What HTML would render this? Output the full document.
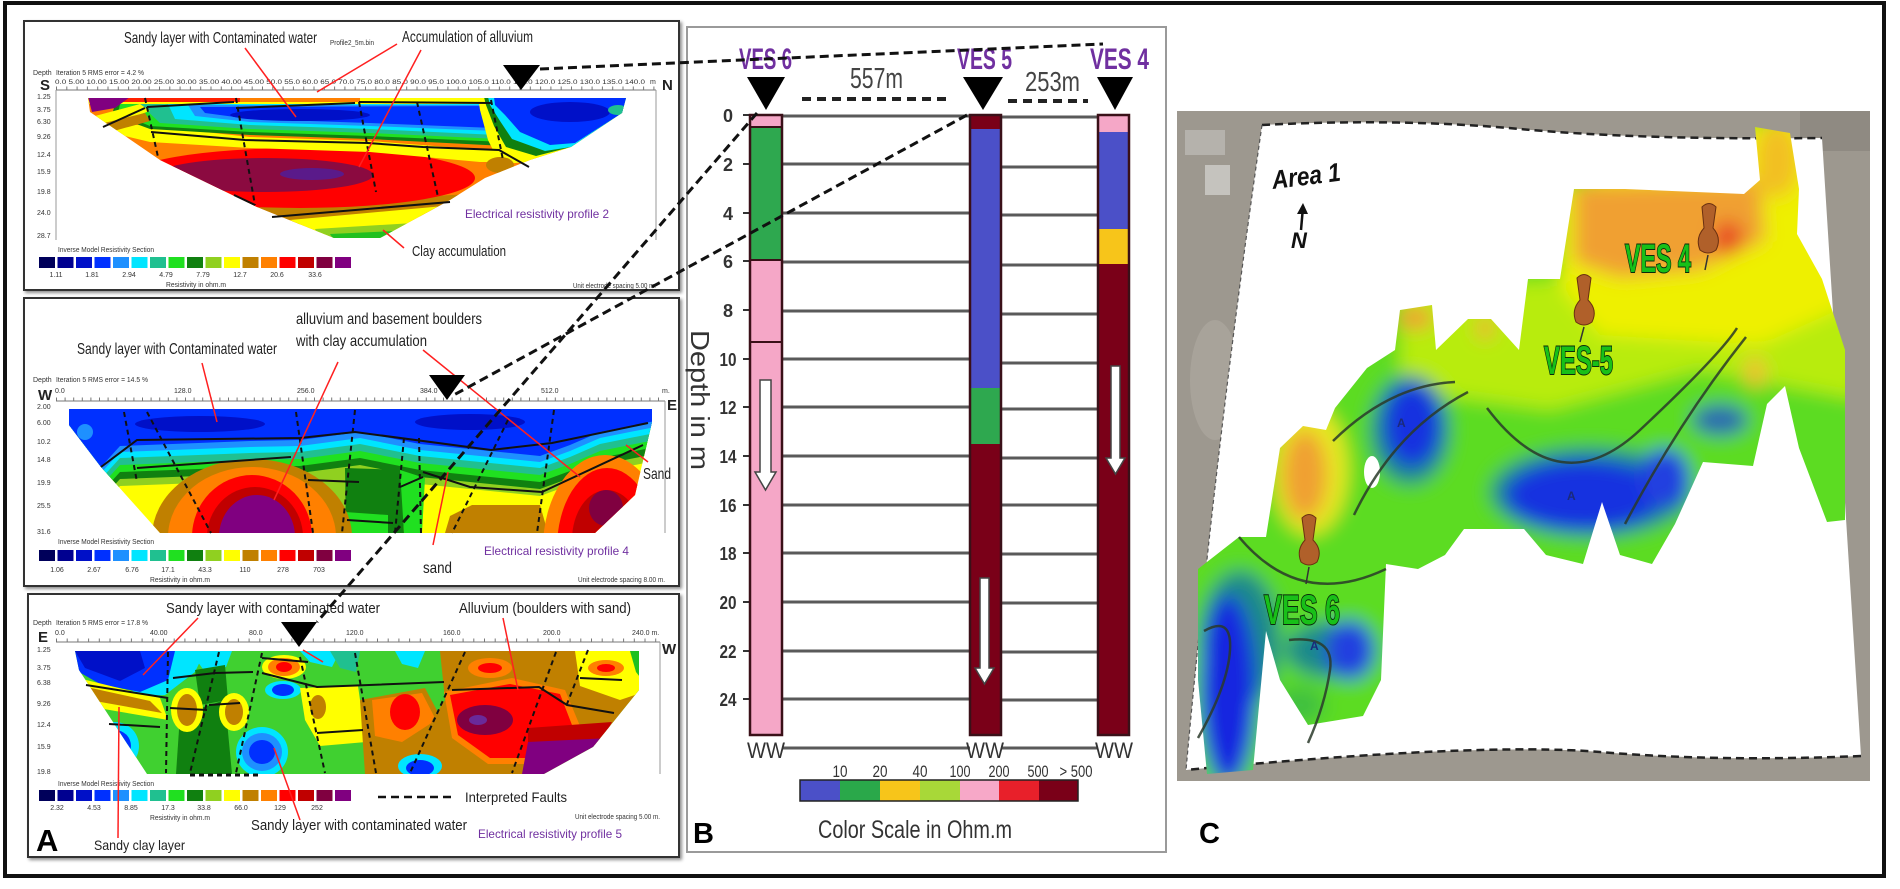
<!DOCTYPE html>
<html><head><meta charset="utf-8">
<style>
html,body{margin:0;padding:0;background:#fff;}
svg{display:block;}
text{font-family:"Liberation Sans",sans-serif;}
</style></head>
<body>
<svg width="1900" height="889" viewBox="0 0 1900 889" xmlns="http://www.w3.org/2000/svg">
<defs>
<clipPath id="c1"><polygon points="88,98 626,98 622,113 571,147 530,160 485,178 450,200 380,238 334,238 257,207 160,160 90,112"/></clipPath>
<clipPath id="c2"><polygon points="69,409 652,409 652,422 635,495 595,533 160,533 101,467 69,425"/></clipPath>
<clipPath id="c3"><polygon points="75,651 639,651 639,690 593,747 544,774 147,774 79,670"/></clipPath>
<clipPath id="cm"><polygon points="1755,127 1790,133 1799,189 1797,234 1822,279 1845,350 1845,520 1827,522 1799,448 1785,386 1767,404 1753,466 1703,462 1675,524 1652,564 1620,555 1602,502 1583,564 1546,555 1524,529 1464,529 1445,555 1418,569 1386,564 1381,680 1363,716 1308,725 1280,680 1266,631 1253,770 1207,774 1198,680 1198,569 1239,537 1266,537 1280,448 1303,426 1326,430 1335,408 1367,368 1395,350 1400,310 1432,305 1436,350 1468,319 1491,319 1519,350 1528,279 1560,279 1574,189 1625,189 1744,194 1760,180"/></clipPath>
<clipPath id="cimg"><rect x="1177" y="111" width="693" height="670"/></clipPath>
<filter id="bl" x="-10%" y="-10%" width="120%" height="120%"><feGaussianBlur stdDeviation="9"/></filter>
<filter id="sh" x="-5%" y="-5%" width="110%" height="110%"><feDropShadow dx="2" dy="2" stdDeviation="1.5" flood-color="#000" flood-opacity="0.45"/></filter>
</defs>

<rect width="1900" height="889" fill="#fff"/>
<rect x="5" y="3" width="1879" height="873" fill="none" stroke="#111" stroke-width="4"/>

<!-- ===== PANEL A boxes ===== -->
<rect x="24" y="21" width="655" height="269" fill="#fff" stroke="#333" stroke-width="2" filter="url(#sh)"/>
<rect x="24" y="298" width="655" height="288" fill="#fff" stroke="#333" stroke-width="2" filter="url(#sh)"/>
<rect x="28" y="594" width="651" height="263" fill="#fff" stroke="#333" stroke-width="2" filter="url(#sh)"/>

<!-- ===== SECTION 1 ===== -->
<g clip-path="url(#c1)">
 <rect x="80" y="90" width="560" height="160" fill="#ff8000"/>
 <polygon points="250,206 470,194 460,214 280,226" fill="#c08000"/>
 <polygon points="290,220 455,205 425,232 320,236" fill="#ffff00"/>
 <polygon points="315,229 430,222 400,240 320,240" fill="#90d020"/>
 <polygon points="330,234 395,231 385,240 334,240" fill="#20c020"/>
 <ellipse cx="300" cy="178" rx="175" ry="30" fill="#ff0000"/>
 <ellipse cx="265" cy="175" rx="108" ry="17" fill="#8b0a40"/>
 <ellipse cx="312" cy="174" rx="32" ry="6" fill="#5a1a8a"/>
 <polygon points="100,122 150,126 250,137 370,141 500,151 520,162 480,162 370,152 250,148 150,142 100,130" fill="#ffff00"/>
 <polygon points="115,104 500,104 505,146 370,139 250,135 150,129 112,115" fill="#108010"/>
 <polygon points="120,104 500,104 504,142 370,136 250,132 150,126 118,113" fill="#20e020"/>
 <polygon points="140,104 497,104 500,139 370,133 250,129 160,123" fill="#20c090"/>
 <polygon points="168,104 496,104 497,135 370,129 250,125 175,119" fill="#00e5ff"/>
 <polygon points="188,105 495,105 496,131 370,126 250,122 195,116" fill="#1e90ff"/>
 <polygon points="200,107 493,106 494,128 370,123 250,119 205,113" fill="#0030ff"/>
 <ellipse cx="300" cy="115" rx="70" ry="6" fill="#0010c8"/>
 <rect x="88" y="97" width="410" height="7" fill="#ffff00"/>
 <rect x="100" y="97" width="140" height="5" fill="#ff2000"/>
 <rect x="240" y="97" width="120" height="5" fill="#ff8000"/>
 <polygon points="88,97 130,97 115,108 92,112" fill="#800080"/>
 <polygon points="95,116 140,104 150,111 105,126" fill="#ffff00"/>
 <polygon points="100,124 145,113 150,121 110,132" fill="#c08000"/>
 <polygon points="478,97 640,97 622,113 571,147 530,162 500,164 488,140 480,110" fill="#ffff00"/>
 <polygon points="484,97 640,97 622,113 571,147 536,156 506,147 494,126 486,105" fill="#108010"/>
 <polygon points="488,97 640,97 622,113 571,147 545,151 512,139 500,121 490,105" fill="#00e5ff"/>
 <polygon points="494,97 640,97 622,113 575,143 550,145 520,132 505,115 495,105" fill="#0030ff"/>
 <ellipse cx="570" cy="112" rx="40" ry="10" fill="#0010c8"/>
 <ellipse cx="618" cy="110" rx="10" ry="5" fill="#20c090"/>
 <ellipse cx="500" cy="165" rx="14" ry="8" fill="#c08000"/>
</g>
<g stroke="#111" stroke-width="2" fill="none">
 <polyline points="103,127 145,108"/><polyline points="147,107 234,102"/><polyline points="236,108 355,103"/><polyline points="359,102 491,103"/>
 <polyline points="151,132 245,140 368,143 423,147 499,150 529,167"/>
 <polyline points="272,217 450,202"/><polyline points="234,195 255,205"/>
</g>
<g stroke="#111" stroke-width="2" stroke-dasharray="5 4" fill="none">
 <line x1="145" y1="98" x2="158" y2="157"/><line x1="236" y1="98" x2="255" y2="205"/><line x1="359" y1="102" x2="376" y2="192"/><line x1="417" y1="102" x2="438" y2="197"/><line x1="491" y1="100" x2="503" y2="160"/>
</g>
<line x1="56" y1="90" x2="656" y2="90" stroke="#777" stroke-width="1"/>
<line x1="56" y1="88" x2="656" y2="88" stroke="#777" stroke-width="3" stroke-dasharray="1 9.3"/>
<line x1="56" y1="90" x2="56" y2="240" stroke="#999" stroke-width="1"/>
<line x1="656" y1="90" x2="656" y2="240" stroke="#999" stroke-width="1"/>
<g fill="#333" font-size="7">
 <text x="33" y="75">Depth</text><text x="56" y="75" textLength="88" lengthAdjust="spacingAndGlyphs">Iteration 5 RMS error = 4.2 %</text>
 <text x="55" y="84" font-size="6.5" textLength="590" lengthAdjust="spacingAndGlyphs">0.0 5.00 10.00 15.00 20.00 25.00 30.00 35.00 40.00 45.00 50.0 55.0 60.0 65.0 70.0 75.0 80.0 85.0 90.0 95.0 100.0 105.0 110.0 115.0 120.0 125.0 130.0 135.0 140.0</text>
 <text x="650" y="84">m</text>
 <text x="37" y="99">1.25</text><text x="37" y="112">3.75</text><text x="37" y="124">6.30</text><text x="37" y="139">9.26</text><text x="37" y="157">12.4</text><text x="37" y="174">15.9</text><text x="37" y="194">19.8</text><text x="37" y="215">24.0</text><text x="37" y="238">28.7</text>
 <text x="58" y="252" textLength="96" lengthAdjust="spacingAndGlyphs">Inverse Model Resistivity Section</text>
 <g text-anchor="middle"><text x="56" y="277">1.11</text><text x="92" y="277">1.81</text><text x="129" y="277">2.94</text><text x="166" y="277">4.79</text><text x="203" y="277">7.79</text><text x="240" y="277">12.7</text><text x="277" y="277">20.6</text><text x="315" y="277">33.6</text></g>
 <text x="166" y="287" textLength="60" lengthAdjust="spacingAndGlyphs">Resistivity in ohm.m</text>
 <text x="330" y="45" textLength="44" lengthAdjust="spacingAndGlyphs">Profile2_5m.bin</text>
 <text x="573" y="288" textLength="83" lengthAdjust="spacingAndGlyphs">Unit electrode spacing 5.00 m.</text>
</g>
<text x="40" y="90" font-size="15" font-weight="bold" fill="#222">S</text>
<text x="662" y="90" font-size="15" font-weight="bold" fill="#222">N</text>
<g id="leg1">
 <rect x="39" y="257" width="16" height="11" fill="#00005a"/><rect x="57.5" y="257" width="16" height="11" fill="#000090"/><rect x="76" y="257" width="16" height="11" fill="#0010c8"/><rect x="94.5" y="257" width="16" height="11" fill="#0030ff"/><rect x="113" y="257" width="16" height="11" fill="#1e90ff"/><rect x="131.5" y="257" width="16" height="11" fill="#00e5ff"/><rect x="150" y="257" width="16" height="11" fill="#20c090"/><rect x="168.5" y="257" width="16" height="11" fill="#20e020"/><rect x="187" y="257" width="16" height="11" fill="#108010"/><rect x="205.5" y="257" width="16" height="11" fill="#90d020"/><rect x="224" y="257" width="16" height="11" fill="#ffff00"/><rect x="242.5" y="257" width="16" height="11" fill="#c08000"/><rect x="261" y="257" width="16" height="11" fill="#ff8000"/><rect x="279.5" y="257" width="16" height="11" fill="#ff0000"/><rect x="298" y="257" width="16" height="11" fill="#c00000"/><rect x="316.5" y="257" width="16" height="11" fill="#800040"/><rect x="335" y="257" width="16" height="11" fill="#800080"/>
</g>
<g stroke="#ff2020" stroke-width="1.5">
 <line x1="245" y1="48" x2="296" y2="117"/><line x1="397" y1="44" x2="317" y2="92"/><line x1="421" y1="50" x2="359" y2="167"/><line x1="404" y1="248" x2="383" y2="230"/>
</g>
<g fill="#222" font-size="16">
 <text x="124" y="43" textLength="193" lengthAdjust="spacingAndGlyphs">Sandy layer with Contaminated water</text>
 <text x="402" y="42" textLength="131" lengthAdjust="spacingAndGlyphs">Accumulation of alluvium</text>
 <text x="412" y="256" textLength="94" lengthAdjust="spacingAndGlyphs" font-size="15">Clay accumulation</text>
</g>
<text x="465" y="218" font-size="12" fill="#7030a0" textLength="144" lengthAdjust="spacingAndGlyphs">Electrical resistivity profile 2</text>
<polygon points="503,65 540,65 521,90" fill="#000"/>

<!-- ===== SECTION 2 ===== -->
<g clip-path="url(#c2)">
 <rect x="60" y="400" width="600" height="140" fill="#ffff00"/>
 <polygon points="60,400 660,400 660,460 600,472 570,485 540,496 480,490 420,484 360,472 300,480 250,481 120,486 100,508 60,510" fill="#90d020"/>
 <polygon points="60,400 660,400 660,453 600,465 570,478 540,489 480,483 420,477 360,465 300,473 250,474 120,479 100,501 60,503" fill="#108010"/>
 <polygon points="60,400 660,400 660,446 600,458 570,471 540,482 480,476 420,470 360,458 300,466 250,467 120,472 100,494 60,496" fill="#20e020"/>
 <polygon points="60,400 660,400 660,439 600,451 570,464 540,475 480,469 420,463 360,451 300,459 250,460 120,465 100,487 60,489" fill="#20c090"/>
 <polygon points="60,400 660,400 660,432 600,444 570,457 540,468 480,462 420,456 360,444 300,452 250,453 120,458 100,480 60,482" fill="#00e5ff"/>
 <polygon points="60,400 660,400 660,426 600,438 570,451 540,462 480,456 420,450 360,438 300,446 250,447 120,452 100,474 60,476" fill="#1e90ff"/>
 <polygon points="60,400 660,400 660,420 600,432 570,445 540,456 480,450 420,444 360,432 300,440 250,441 120,446 100,468 60,470" fill="#0030ff"/>
 <ellipse cx="200" cy="424" rx="65" ry="8" fill="#0010c8"/>
 <ellipse cx="470" cy="422" rx="55" ry="8" fill="#0010c8"/>
 <ellipse cx="85" cy="432" rx="8" ry="8" fill="#1e90ff"/>
 <polygon points="312,475 345,468 348,533 318,533" fill="#90d020"/>
 <polygon points="345,468 402,470 404,533 346,533" fill="#108010"/>
 <polygon points="400,470 425,478 422,533 404,533" fill="#20e020"/>
 <polygon points="345,512 388,515 388,533 345,533" fill="#20e020"/>
 <ellipse cx="252" cy="537" rx="100" ry="78" fill="#c08000"/>
 <ellipse cx="252" cy="537" rx="84" ry="70" fill="#ff8000"/>
 <ellipse cx="252" cy="537" rx="60" ry="62" fill="#ff0000"/>
 <ellipse cx="255" cy="537" rx="48" ry="50" fill="#c00000"/>
 <ellipse cx="257" cy="537" rx="38" ry="42" fill="#800080"/>
 <polygon points="450,516 472,505 540,505 548,533 445,533" fill="#c08000"/>
 <ellipse cx="605" cy="548" rx="62" ry="93" fill="#ff8000"/>
 <ellipse cx="607" cy="548" rx="50" ry="80" fill="#ff0000"/>
 <ellipse cx="607" cy="540" rx="35" ry="50" fill="#c00000"/>
 <ellipse cx="606" cy="508" rx="17" ry="18" fill="#800040"/>
</g>
<g stroke="#111" stroke-width="2" fill="none">
 <polyline points="101,467 137,440 300,438 355,432 491,450 552,443 648,423"/>
 <polyline points="137,468 291,457"/><polyline points="423,472 470,487 542,492 643,445"/>
 <polyline points="308,480 359,482"/><polyline points="400,487 423,477"/><polyline points="347,520 393,523"/>
</g>
<g stroke="#111" stroke-width="2" stroke-dasharray="5 4" fill="none">
 <line x1="124" y1="412" x2="137" y2="482"/><line x1="147" y1="412" x2="211" y2="533"/><line x1="296" y1="412" x2="313" y2="533"/><line x1="355" y1="410" x2="342" y2="533"/><line x1="404" y1="438" x2="395" y2="533"/><line x1="419" y1="438" x2="421" y2="533"/><line x1="508" y1="420" x2="452" y2="533"/><line x1="554" y1="410" x2="537" y2="533"/>
</g>
<line x1="56" y1="401" x2="665" y2="401" stroke="#777" stroke-width="1"/>
<line x1="56" y1="399" x2="665" y2="399" stroke="#777" stroke-width="3" stroke-dasharray="1 7.6"/>
<line x1="665" y1="401" x2="665" y2="533" stroke="#999" stroke-width="1"/>
<g fill="#333" font-size="7">
 <text x="33" y="382">Depth</text><text x="56" y="382" textLength="92" lengthAdjust="spacingAndGlyphs">Iteration 5 RMS error = 14.5 %</text>
 <text x="55" y="393">0.0</text><text x="174" y="393">128.0</text><text x="297" y="393">256.0</text><text x="420" y="393">384.0</text><text x="541" y="393">512.0</text><text x="662" y="393">m.</text>
 <text x="37" y="409">2.00</text><text x="37" y="425">6.00</text><text x="37" y="444">10.2</text><text x="37" y="462">14.8</text><text x="37" y="485">19.9</text><text x="37" y="508">25.5</text><text x="37" y="534">31.6</text>
 <text x="58" y="544" textLength="96" lengthAdjust="spacingAndGlyphs">Inverse Model Resistivity Section</text>
 <g text-anchor="middle"><text x="57" y="572">1.06</text><text x="94" y="572">2.67</text><text x="132" y="572">6.76</text><text x="168" y="572">17.1</text><text x="205" y="572">43.3</text><text x="245" y="572">110</text><text x="283" y="572">278</text><text x="319" y="572">703</text></g>
 <text x="150" y="582" textLength="60" lengthAdjust="spacingAndGlyphs">Resistivity in ohm.m</text>
 <text x="578" y="582" textLength="87" lengthAdjust="spacingAndGlyphs">Unit electrode spacing 8.00 m.</text>
</g>
<text x="38" y="400" font-size="15" font-weight="bold" fill="#222">W</text>
<text x="667" y="410" font-size="15" font-weight="bold" fill="#222">E</text>
<use href="#leg1" transform="translate(0,293)"/>
<g stroke="#ff2020" stroke-width="1.5">
 <line x1="202" y1="363" x2="217" y2="422"/><line x1="338" y1="362" x2="274" y2="500"/><line x1="423" y1="350" x2="580" y2="477"/><line x1="626" y1="445" x2="648" y2="462"/><line x1="433" y1="545" x2="448" y2="472"/>
</g>
<g fill="#222" font-size="16">
 <text x="296" y="324" textLength="186" lengthAdjust="spacingAndGlyphs">alluvium and basement boulders</text>
 <text x="296" y="346" textLength="131" lengthAdjust="spacingAndGlyphs">with clay accumulation</text>
 <text x="77" y="354" textLength="200" lengthAdjust="spacingAndGlyphs">Sandy layer with Contaminated water</text>
 <text x="423" y="573" textLength="29" lengthAdjust="spacingAndGlyphs">sand</text>
 <text x="643" y="479" textLength="28" lengthAdjust="spacingAndGlyphs">Sand</text>
</g>
<text x="484" y="555" font-size="12" fill="#7030a0" textLength="145" lengthAdjust="spacingAndGlyphs">Electrical resistivity profile 4</text>
<polygon points="429,375 465,375 447,400" fill="#000"/>

<!-- ===== SECTION 3 ===== -->
<g clip-path="url(#c3)">
 <rect x="70" y="645" width="580" height="135" fill="#40d030"/>
 <polygon points="150,651 205,651 195,672 165,695 130,697" fill="#00e5ff"/>
 <polygon points="75,651 175,651 168,680 140,692 100,684 79,672" fill="#0030ff"/>
 <polygon points="75,651 140,651 145,668 120,681 85,668" fill="#0010c8"/>
 <polygon points="190,651 232,651 226,667 205,672" fill="#00e5ff"/>
 <polygon points="300,651 340,651 332,667 310,662" fill="#00e5ff"/>
 <polygon points="395,651 425,651 418,668 402,664" fill="#00e5ff"/>
 <polygon points="330,651 360,651 356,672 340,668" fill="#20c090"/>
 <polygon points="78,678 160,698 168,720 86,706" fill="#ffff00"/>
 <polygon points="82,686 150,701 162,713 95,701" fill="#c08000"/>
 <ellipse cx="115" cy="746" rx="24" ry="24" fill="#00e5ff"/>
 <ellipse cx="115" cy="746" rx="16" ry="16" fill="#0030ff"/>
 <polygon points="180,715 225,700 232,774 176,774" fill="#108010"/>
 <polygon points="195,670 225,665 228,700 200,705" fill="#108010"/>
 <ellipse cx="187" cy="710" rx="16" ry="22" fill="#ffff00"/>
 <ellipse cx="187" cy="710" rx="10" ry="16" fill="#c08000"/>
 <ellipse cx="234" cy="712" rx="15" ry="19" fill="#ffff00"/>
 <ellipse cx="234" cy="712" rx="9" ry="13" fill="#c08000"/>
 <ellipse cx="284" cy="667" rx="22" ry="12" fill="#ffff00"/>
 <ellipse cx="284" cy="667" rx="16" ry="9" fill="#ff8000"/>
 <ellipse cx="284" cy="667" rx="8" ry="5" fill="#ff0000"/>
 <ellipse cx="283" cy="690" rx="18" ry="9" fill="#00e5ff"/>
 <ellipse cx="283" cy="690" rx="11" ry="6" fill="#0030ff"/>
 <ellipse cx="262" cy="752" rx="26" ry="25" fill="#00e5ff"/>
 <ellipse cx="262" cy="752" rx="20" ry="19" fill="#1e90ff"/>
 <ellipse cx="262" cy="752" rx="13" ry="12" fill="#0030ff"/>
 <polygon points="300,688 358,686 366,742 320,746 305,720" fill="#ffff00"/>
 <ellipse cx="318" cy="707" rx="8" ry="12" fill="#c08000"/>
 <polygon points="360,700 425,688 442,720 425,774 365,774" fill="#c08000"/>
 <polygon points="372,700 422,693 436,720 402,742 375,736" fill="#ff8000"/>
 <ellipse cx="405" cy="712" rx="15" ry="18" fill="#ff0000"/>
 <polygon points="440,651 650,651 650,690 593,747 544,774 420,774 432,720 445,700" fill="#c08000"/>
 <ellipse cx="420" cy="766" rx="22" ry="12" fill="#00e5ff"/>
 <ellipse cx="420" cy="768" rx="14" ry="8" fill="#0030ff"/>
 <polygon points="444,692 512,678 565,690 580,726 555,764 488,764 452,738" fill="#ff8000"/>
 <polygon points="450,695 510,684 560,694 572,725 550,758 490,758 458,735" fill="#ff0000"/>
 <ellipse cx="485" cy="720" rx="28" ry="15" fill="#800040"/>
 <ellipse cx="478" cy="720" rx="9" ry="5" fill="#6a2a9a"/>
 <polygon points="528,728 612,722 600,744 528,748" fill="#c00000"/>
 <polygon points="528,742 610,738 593,747 544,774 522,774" fill="#800080"/>
 <ellipse cx="490" cy="668" rx="22" ry="10" fill="#ff8000"/>
 <ellipse cx="490" cy="668" rx="12" ry="5" fill="#ff0000"/>
 <polygon points="575,651 650,651 650,690 620,700 580,686" fill="#ffff00"/>
 <ellipse cx="606" cy="668" rx="18" ry="8" fill="#ff8000"/>
 <ellipse cx="606" cy="668" rx="9" ry="4" fill="#ff0000"/>
 <polygon points="630,651 650,651 650,690 636,672" fill="#20c020"/>
</g>
<g stroke="#111" stroke-width="2" fill="none">
 <polyline points="86,685 168,698"/><polyline points="109,724 160,727"/><polyline points="173,678 215,673 253,672"/><polyline points="170,708 207,710"/><polyline points="209,705 240,703"/><polyline points="262,658 308,662"/><polyline points="262,673 317,687 444,682"/><polyline points="317,733 363,730"/><polyline points="452,690 539,687 567,705 614,713"/><polyline points="580,678 622,680"/>
</g>
<g stroke="#111" stroke-width="2" stroke-dasharray="5 4" fill="none">
 <line x1="168" y1="652" x2="166" y2="773"/><line x1="219" y1="652" x2="190" y2="773"/><line x1="262" y1="653" x2="236" y2="773"/><line x1="300" y1="657" x2="325" y2="773"/><line x1="355" y1="653" x2="376" y2="773"/><line x1="465" y1="652" x2="410" y2="773"/><line x1="556" y1="652" x2="512" y2="773"/><line x1="588" y1="650" x2="567" y2="704"/>
 <line x1="190" y1="775" x2="262" y2="775" stroke-width="3"/>
</g>
<line x1="56" y1="642" x2="660" y2="642" stroke="#777" stroke-width="1"/>
<line x1="56" y1="640" x2="660" y2="640" stroke="#777" stroke-width="3" stroke-dasharray="1 9.7"/>
<line x1="660" y1="642" x2="660" y2="774" stroke="#999" stroke-width="1"/>
<g fill="#333" font-size="7">
 <text x="33" y="625">Depth</text><text x="56" y="625" textLength="92" lengthAdjust="spacingAndGlyphs">Iteration 5 RMS error = 17.8 %</text>
 <text x="55" y="635">0.0</text><text x="150" y="635">40.00</text><text x="249" y="635">80.0</text><text x="346" y="635">120.0</text><text x="443" y="635">160.0</text><text x="543" y="635">200.0</text><text x="632" y="635">240.0 m.</text>
 <text x="37" y="652">1.25</text><text x="37" y="670">3.75</text><text x="37" y="685">6.38</text><text x="37" y="706">9.26</text><text x="37" y="727">12.4</text><text x="37" y="749">15.9</text><text x="37" y="774">19.8</text>
 <text x="58" y="786" textLength="96" lengthAdjust="spacingAndGlyphs">Inverse Model Resistivity Section</text>
 <g text-anchor="middle"><text x="57" y="810">2.32</text><text x="94" y="810">4.53</text><text x="131" y="810">8.85</text><text x="168" y="810">17.3</text><text x="204" y="810">33.8</text><text x="241" y="810">66.0</text><text x="280" y="810">129</text><text x="317" y="810">252</text></g>
 <text x="150" y="820" textLength="60" lengthAdjust="spacingAndGlyphs">Resistivity in ohm.m</text>
 <text x="575" y="819" textLength="85" lengthAdjust="spacingAndGlyphs">Unit electrode spacing 5.00 m.</text>
</g>
<text x="38" y="642" font-size="15" font-weight="bold" fill="#222">E</text>
<text x="662" y="654" font-size="15" font-weight="bold" fill="#222">W</text>
<use href="#leg1" transform="translate(0,533)"/>
<line x1="378" y1="797" x2="453" y2="797" stroke="#111" stroke-width="2.5" stroke-dasharray="8 5"/>
<g stroke="#ff2020" stroke-width="1.5">
 <line x1="198" y1="618" x2="143" y2="675"/><line x1="303" y1="650" x2="323" y2="662"/><line x1="503" y1="618" x2="518" y2="690"/><line x1="119" y1="707" x2="118" y2="838"/><line x1="300" y1="820" x2="274" y2="748"/>
</g>
<g fill="#222">
 <text x="166" y="613" font-size="15" textLength="214" lengthAdjust="spacingAndGlyphs">Sandy layer with contaminated water</text>
 <text x="459" y="613" font-size="15" textLength="172" lengthAdjust="spacingAndGlyphs">Alluvium (boulders with sand)</text>
 <text x="465" y="802" font-size="14" textLength="102" lengthAdjust="spacingAndGlyphs">Interpreted Faults</text>
 <text x="251" y="830" font-size="15" textLength="216" lengthAdjust="spacingAndGlyphs">Sandy layer with contaminated water</text>
 <text x="94" y="850" font-size="14" textLength="91" lengthAdjust="spacingAndGlyphs">Sandy clay layer</text>
 <text x="36" y="851" font-size="31" font-weight="bold" fill="#000">A</text>
</g>
<text x="478" y="838" font-size="12" fill="#7030a0" textLength="144" lengthAdjust="spacingAndGlyphs">Electrical resistivity profile 5</text>
<polygon points="281,622 317,622 299,647" fill="#000"/>

<!-- ===== PANEL B ===== -->
<rect x="687" y="27" width="479" height="825" fill="#fff" stroke="#9a9a9a" stroke-width="2"/>
<g fill="#7030a0" font-size="30" font-weight="bold">
 <text x="739" y="69" textLength="53" lengthAdjust="spacingAndGlyphs">VES 6</text>
 <text x="957" y="69" textLength="55" lengthAdjust="spacingAndGlyphs">VES 5</text>
 <text x="1090" y="69" textLength="59" lengthAdjust="spacingAndGlyphs">VES 4</text>
</g>
<polygon points="747,77 785,77 766,110" fill="#000"/>
<polygon points="963,77 1003,77 983,110" fill="#000"/>
<polygon points="1097,77 1133,77 1115,110" fill="#000"/>
<text x="850" y="88" font-size="29" fill="#444" textLength="53" lengthAdjust="spacingAndGlyphs">557m</text>
<text x="1025" y="91" font-size="28" fill="#444" textLength="55" lengthAdjust="spacingAndGlyphs">253m</text>
<line x1="802" y1="99" x2="947" y2="99" stroke="#222" stroke-width="4" stroke-dasharray="9 6"/>
<line x1="1008" y1="101" x2="1088" y2="101" stroke="#222" stroke-width="4" stroke-dasharray="9 6"/>
<g stroke="#5a5a5a" stroke-width="3">
 <line x1="782" y1="116" x2="970" y2="116"/><line x1="1001" y1="117" x2="1098" y2="117"/>
 <line x1="782" y1="164" x2="970" y2="164"/><line x1="1001" y1="167" x2="1098" y2="167"/>
 <line x1="782" y1="213" x2="970" y2="213"/><line x1="1001" y1="215" x2="1098" y2="215"/>
 <line x1="782" y1="262" x2="970" y2="262"/><line x1="1001" y1="265" x2="1098" y2="265"/>
 <line x1="782" y1="311" x2="970" y2="311"/><line x1="1001" y1="314" x2="1098" y2="314"/>
 <line x1="782" y1="359" x2="970" y2="359"/><line x1="1001" y1="363" x2="1098" y2="363"/>
 <line x1="782" y1="407" x2="970" y2="407"/><line x1="1001" y1="409" x2="1098" y2="409"/>
 <line x1="782" y1="456" x2="970" y2="456"/><line x1="1001" y1="458" x2="1098" y2="458"/>
 <line x1="782" y1="505" x2="970" y2="505"/><line x1="1001" y1="505" x2="1098" y2="505"/>
 <line x1="782" y1="553" x2="970" y2="553"/><line x1="1001" y1="554" x2="1098" y2="554"/>
 <line x1="782" y1="602" x2="970" y2="602"/><line x1="1001" y1="603" x2="1098" y2="603"/>
 <line x1="782" y1="651" x2="970" y2="651"/><line x1="1001" y1="652" x2="1098" y2="652"/>
 <line x1="782" y1="699" x2="970" y2="699"/><line x1="1001" y1="700" x2="1098" y2="700"/>
 <line x1="782" y1="748" x2="970" y2="748"/><line x1="1001" y1="748" x2="1098" y2="748"/>
</g>
<g stroke="#333" stroke-width="2">
 <line x1="743" y1="115" x2="750" y2="115"/><line x1="743" y1="164" x2="750" y2="164"/><line x1="743" y1="213" x2="750" y2="213"/><line x1="743" y1="261" x2="750" y2="261"/><line x1="743" y1="310" x2="750" y2="310"/><line x1="743" y1="359" x2="750" y2="359"/><line x1="743" y1="407" x2="750" y2="407"/><line x1="743" y1="456" x2="750" y2="456"/><line x1="743" y1="505" x2="750" y2="505"/><line x1="743" y1="553" x2="750" y2="553"/><line x1="743" y1="602" x2="750" y2="602"/><line x1="743" y1="651" x2="750" y2="651"/><line x1="743" y1="699" x2="750" y2="699"/>
</g>
<g fill="#333" font-size="18" font-weight="bold" text-anchor="middle">
 <text x="728" y="122">0</text><text x="728" y="171">2</text><text x="728" y="220">4</text><text x="728" y="268">6</text><text x="728" y="317">8</text><text x="728" y="366" textLength="17" lengthAdjust="spacingAndGlyphs">10</text><text x="728" y="414" textLength="17" lengthAdjust="spacingAndGlyphs">12</text><text x="728" y="463" textLength="17" lengthAdjust="spacingAndGlyphs">14</text><text x="728" y="512" textLength="17" lengthAdjust="spacingAndGlyphs">16</text><text x="728" y="560" textLength="17" lengthAdjust="spacingAndGlyphs">18</text><text x="728" y="609" textLength="17" lengthAdjust="spacingAndGlyphs">20</text><text x="728" y="658" textLength="17" lengthAdjust="spacingAndGlyphs">22</text><text x="728" y="706" textLength="17" lengthAdjust="spacingAndGlyphs">24</text>
</g>
<text transform="translate(691,330) rotate(90)" font-size="26" fill="#333" textLength="140" lengthAdjust="spacingAndGlyphs">Depth in m</text>
<rect x="750" y="115" width="32" height="11" fill="#f5a7c7"/>
<rect x="750" y="127" width="32" height="133" fill="#2ea84f"/>
<rect x="750" y="260" width="32" height="475" fill="#f5a7c7"/>
<line x1="750" y1="127" x2="782" y2="127" stroke="#3a1018" stroke-width="2"/>
<line x1="750" y1="260" x2="782" y2="260" stroke="#3a1018" stroke-width="2"/>
<line x1="750" y1="342" x2="782" y2="342" stroke="#3a1018" stroke-width="2"/>
<rect x="750" y="115" width="32" height="620" fill="none" stroke="#3a1018" stroke-width="2.5"/>
<polygon points="760,380 771,380 771,472 776,472 765.5,490 755,472 760,472" fill="#fff" stroke="#444" stroke-width="1.5"/>
<rect x="970" y="115" width="31" height="14" fill="#7a0018"/>
<rect x="970" y="129" width="31" height="259" fill="#4b50c8"/>
<rect x="970" y="388" width="31" height="56" fill="#2ea84f"/>
<rect x="970" y="444" width="31" height="291" fill="#7a0018"/>
<rect x="970" y="115" width="31" height="620" fill="none" stroke="#3a1018" stroke-width="2.5"/>
<polygon points="980,578 989,578 989,668 994,668 984.5,684 975,668 980,668" fill="#fff" stroke="#444" stroke-width="1.5"/>
<rect x="1098" y="115" width="31" height="17" fill="#f5a7c7"/>
<rect x="1098" y="132" width="31" height="97" fill="#4b50c8"/>
<rect x="1098" y="229" width="31" height="35" fill="#f7c51a"/>
<rect x="1098" y="264" width="31" height="471" fill="#7a0018"/>
<rect x="1098" y="115" width="31" height="620" fill="none" stroke="#3a1018" stroke-width="2.5"/>
<polygon points="1111,366 1120,366 1120,458 1125,458 1115.5,474 1106,458 1111,458" fill="#fff" stroke="#444" stroke-width="1.5"/>
<g fill="#333" font-size="22">
 <text x="747" y="758" textLength="38" lengthAdjust="spacingAndGlyphs">WW</text>
 <text x="966" y="758" textLength="38" lengthAdjust="spacingAndGlyphs">WW</text>
 <text x="1095" y="758" textLength="38" lengthAdjust="spacingAndGlyphs">WW</text>
</g>
<rect x="800" y="780" width="40" height="21" fill="#4b50c8"/><rect x="840" y="780" width="40" height="21" fill="#2aa84a"/><rect x="880" y="780" width="40" height="21" fill="#f7c51a"/><rect x="920" y="780" width="40" height="21" fill="#a8d838"/><rect x="960" y="780" width="39" height="21" fill="#f7a8c8"/><rect x="999" y="780" width="40" height="21" fill="#e8202a"/><rect x="1039" y="780" width="39" height="21" fill="#7a0018"/>
<rect x="800" y="780" width="278" height="21" fill="none" stroke="#222" stroke-width="1.5"/>
<g fill="#333" font-size="17" text-anchor="middle">
 <text x="840" y="777" textLength="15" lengthAdjust="spacingAndGlyphs">10</text><text x="880" y="777" textLength="15" lengthAdjust="spacingAndGlyphs">20</text><text x="920" y="777" textLength="15" lengthAdjust="spacingAndGlyphs">40</text><text x="960" y="777" textLength="21" lengthAdjust="spacingAndGlyphs">100</text><text x="999" y="777" textLength="21" lengthAdjust="spacingAndGlyphs">200</text><text x="1038" y="777" textLength="21" lengthAdjust="spacingAndGlyphs">500</text><text x="1076" y="777" textLength="33" lengthAdjust="spacingAndGlyphs">&gt; 500</text>
</g>
<text x="818" y="838" font-size="25" fill="#333" textLength="194" lengthAdjust="spacingAndGlyphs">Color Scale in Ohm.m</text>
<text x="693" y="843" font-size="29" font-weight="bold" fill="#000">B</text>

<!-- ===== PANEL C ===== -->
<g clip-path="url(#cimg)">
 <rect x="1177" y="111" width="693" height="670" fill="#9d988f"/>
 <rect x="1185" y="130" width="40" height="25" fill="#b5b2ac"/>
 <rect x="1205" y="165" width="25" height="30" fill="#c5c3be"/>
 <ellipse cx="1215" cy="380" rx="25" ry="60" fill="#a8a39a"/>
 <rect x="1800" y="111" width="70" height="40" fill="#8f8a82"/>
</g>
<path d="M1262,125 Q1400,118 1520,129 T1822,138 L1861,756 Q1720,762 1600,752 T1186,770 Q1215,450 1262,125 Z" fill="#fff"/>
<path d="M1262,125 Q1400,118 1520,129 T1822,138" fill="none" stroke="#222" stroke-width="2.5" stroke-dasharray="8 5"/>
<path d="M1861,756 Q1720,762 1600,752 T1186,770" fill="none" stroke="#222" stroke-width="2.5" stroke-dasharray="8 5"/>
<path d="M1262,125 Q1215,450 1186,770" fill="none" stroke="#555" stroke-width="1.2" stroke-dasharray="4 3"/>
<g clip-path="url(#cm)">
 <g filter="url(#bl)">
  <rect x="1180" y="110" width="700" height="680" fill="#5cdc22"/>
  <polygon points="1400,290 1860,260 1860,400 1700,370 1550,410 1400,390" fill="#b8ec10"/>
  <polygon points="1560,190 1800,110 1860,300 1760,345 1600,335 1560,285" fill="#eef000"/>
  <polygon points="1574,185 1760,180 1765,240 1700,270 1620,278 1574,262" fill="#f0a030"/>
  <ellipse cx="1728" cy="238" rx="15" ry="17" fill="#e84a28"/>
  <ellipse cx="1777" cy="160" rx="22" ry="38" fill="#f2c020"/>
  <ellipse cx="1415" cy="318" rx="18" ry="12" fill="#f0a030"/>
  <ellipse cx="1485" cy="328" rx="9" ry="12" fill="#f0b030"/>
  <ellipse cx="1755" cy="372" rx="11" ry="16" fill="#f0c030"/>
  <ellipse cx="1410" cy="430" rx="40" ry="55" fill="#1a8a8a"/>
  <ellipse cx="1412" cy="425" rx="28" ry="42" fill="#1830e0"/>
  <ellipse cx="1590" cy="492" rx="100" ry="45" fill="#1a8a8a"/>
  <ellipse cx="1585" cy="495" rx="80" ry="35" fill="#1830e0"/>
  <ellipse cx="1665" cy="478" rx="25" ry="30" fill="#2040e0"/>
  <ellipse cx="1720" cy="420" rx="28" ry="16" fill="#2a6ab0"/>
  <ellipse cx="1310" cy="470" rx="38" ry="65" fill="#e8e820"/>
  <ellipse cx="1305" cy="475" rx="22" ry="45" fill="#f0a030"/>
  <ellipse cx="1240" cy="640" rx="40" ry="70" fill="#1a8a8a"/>
  <ellipse cx="1228" cy="690" rx="28" ry="95" fill="#1828e0"/>
  <ellipse cx="1330" cy="650" rx="45" ry="28" fill="#1a8a8a"/>
  <ellipse cx="1350" cy="650" rx="25" ry="30" fill="#2040e0"/>
  <ellipse cx="1300" cy="705" rx="25" ry="18" fill="#40c040"/>
 </g>
</g>
<ellipse cx="1372" cy="472" rx="8" ry="16" fill="#fff"/>
<g stroke="#2a3a2a" stroke-width="2.5" fill="none" opacity="0.85">
 <path d="M1333,441 Q1390,385 1455,382"/>
 <path d="M1354,515 Q1395,430 1468,392"/>
 <path d="M1487,408 Q1560,505 1640,430 T1737,328"/>
 <path d="M1625,524 Q1680,420 1746,337"/>
 <path d="M1239,537 Q1300,610 1386,569"/>
 <path d="M1204,631 Q1232,615 1230,650 T1198,738"/>
 <path d="M1289,640 Q1335,635 1330,670 T1308,743"/>
</g>
<g fill="#1a2a7a" font-size="12" font-weight="bold">
 <text x="1397" y="427">A</text><text x="1567" y="500">A</text><text x="1310" y="650">A</text>
</g>
<g fill="#b0602a" stroke="#6a3010" stroke-width="1">
 <path d="M1702,207 Q1709,200 1716,207 L1713,228 Q1722,238 1716,250 Q1708,256 1700,250 Q1695,238 1704,228 Z"/>
 <path d="M1577,278 Q1584,271 1591,278 L1588,300 Q1598,310 1592,322 Q1584,328 1576,322 Q1571,310 1580,300 Z"/>
 <path d="M1302,518 Q1309,511 1316,518 L1313,540 Q1323,550 1317,562 Q1309,568 1301,562 Q1296,550 1305,540 Z"/>
</g>
<g stroke="#333" stroke-width="1.5">
 <line x1="1708" y1="255" x2="1705" y2="270"/><line x1="1584" y1="327" x2="1580" y2="342"/><line x1="1309" y1="567" x2="1306" y2="584"/>
</g>
<g fill="#18c018" stroke="#0a2a0a" stroke-width="2" font-weight="bold" paint-order="stroke">
 <text x="1625" y="272" font-size="40" textLength="66" lengthAdjust="spacingAndGlyphs">VES 4</text>
 <text x="1544" y="374" font-size="40" textLength="69" lengthAdjust="spacingAndGlyphs">VES-5</text>
 <text x="1264" y="624" font-size="42" textLength="76" lengthAdjust="spacingAndGlyphs">VES 6</text>
</g>
<text transform="translate(1273,189) rotate(-7)" font-size="26" font-weight="bold" font-style="italic" fill="#111" textLength="69" lengthAdjust="spacingAndGlyphs">Area 1</text>
<line x1="1301" y1="230" x2="1303" y2="207" stroke="#111" stroke-width="2.5"/>
<polygon points="1297,214 1303,203 1308,214" fill="#111"/>
<text x="1291" y="248" font-size="22" font-weight="bold" font-style="italic" fill="#111">N</text>
<text x="1199" y="843" font-size="29" font-weight="bold" fill="#000">C</text>

<g stroke="#111" stroke-width="3" stroke-dasharray="9 5" fill="none">
 <line x1="540" y1="69" x2="1103" y2="44"/>
 <line x1="757" y1="113" x2="317" y2="622"/>
 <line x1="967" y1="115" x2="452" y2="396"/>
</g>
</svg>
</body></html>
